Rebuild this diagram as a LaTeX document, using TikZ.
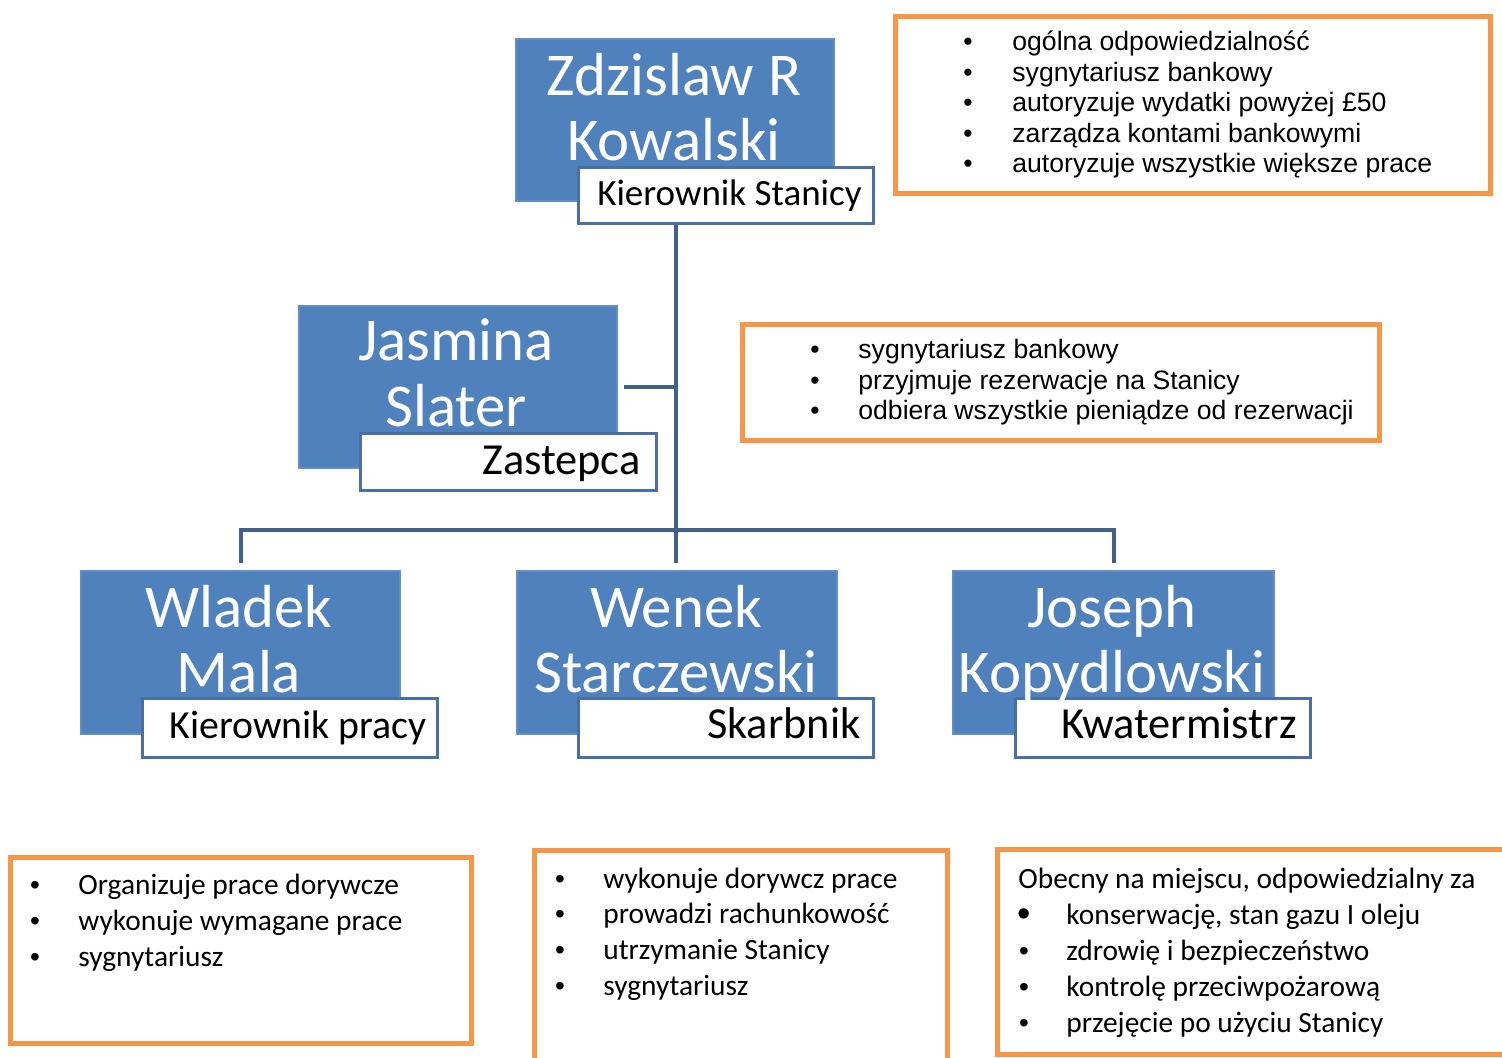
\documentclass[tikz,border=0pt]{standalone}
\usepackage{fontspec}
\setmainfont{Carlito}
\newfontfamily\arialf{Liberation Sans}
\definecolor{boxblue}{HTML}{4F81BD}
\definecolor{lblborder}{HTML}{4A6FA5}
\definecolor{linecol}{HTML}{41608A}
\definecolor{orng}{HTML}{F79646}
\begin{document}
\begin{tikzpicture}[x=0.5pt,y=-0.5pt,
  bluebox/.style={fill=boxblue, draw=boxblue!90!white, line width=1pt, inner sep=0pt, anchor=north west},
  lblbox/.style={fill=white, draw=lblborder, line width=1.5pt, inner sep=0pt, anchor=north west},
  nametxt/.style={text=white, font=\fontsize{30.4}{36}\selectfont, inner sep=0pt, anchor=base},
  lbltxt/.style={text=black, font=\fontsize{22.2}{26}\selectfont, inner sep=0pt, anchor=base east},
  conn/.style={draw=linecol, line width=2pt},
  obox/.style={draw=orng, line width=2.5pt, fill=white, inner sep=0pt, anchor=north west},
  atxt/.style={font=\arialf\fontsize{13.3}{16}\selectfont, inner sep=0pt, anchor=base west},
  ctxt/.style={font=\fontsize{14.7}{18}\selectfont, inner sep=0pt, anchor=base west},
  abul/.style={font=\arialf\fontsize{13.3}{16}\selectfont, inner sep=0pt, anchor=base},
  cbul/.style={font=\arialf\fontsize{14}{16}\selectfont, inner sep=0pt, anchor=base}
]
\useasboundingbox (0,0) rectangle (1502,1057);

% ---- blue boxes ----
\node[bluebox, minimum width=159pt, minimum height=81pt] (zb) at (515,38) {};
\node[lblbox, minimum width=147.5pt, minimum height=28pt] (zl) at (577,166) {};
\node[nametxt] (zn1) at (674,95) {Zdzislaw R};
\node[nametxt] (zn2) at (674,160) {Kowalski};
\node[lbltxt, font=\fontsize{18.5}{22}\selectfont] (zt) at (862,205) {Kierownik Stanicy};

\node[bluebox, minimum width=159pt, minimum height=81pt] (jb) at (298,305) {};
\node[lblbox, minimum width=148pt, minimum height=28.5pt] (jl) at (359,432) {};
\node[nametxt] (jn1) at (456,360) {Jasmina};
\node[nametxt] (jn2) at (456,426) {Slater};
\node[lbltxt] (jt) at (641,474) {Zastepca};

\node[bluebox, minimum width=159.5pt, minimum height=81.5pt] (wb) at (80,570) {};
\node[lblbox, minimum width=147.5pt, minimum height=29.5pt] (wl) at (141,697) {};
\node[nametxt] (wn1) at (239,627) {Wladek};
\node[nametxt] (wn2) at (239,692) {Mala};
\node[lbltxt, font=\fontsize{19.9}{24}\selectfont] (wt) at (427,738) {Kierownik pracy};

\node[bluebox, minimum width=160pt, minimum height=81.5pt] (sb) at (516,570) {};
\node[lblbox, minimum width=147.5pt, minimum height=29.5pt] (sl) at (577,697) {};
\node[nametxt] (sn1) at (676,627) {Wenek};
\node[nametxt] (sn2) at (676,692) {Starczewski};
\node[lbltxt] (st) at (861,738) {Skarbnik};

\node[bluebox, minimum width=160.5pt, minimum height=81.5pt] (kb) at (952,570) {};
\node[lblbox, minimum width=147.5pt, minimum height=29.5pt] (kl) at (1014,697) {};
\node[nametxt] (kn1) at (1112,627) {Joseph};
\node[nametxt] (kn2) at (1112,692) {Kopydlowski};
\node[lbltxt] (kt) at (1297,738) {Kwatermistrz};

% ---- connectors ----
\coordinate (j) at (676,530);
\draw[conn] (j |- zl.south) -- (j);
\draw[conn, shorten >=3.5pt] (j) -- (j |- sb.north);
\draw[conn, shorten >=3.5pt] (j) -| (wb.north);
\draw[conn, shorten >=3.5pt] (j) -| (kb.north);
\draw[conn] ([xshift=6*0.5pt]jb.east) -- (jb.east -| j);

% ---- orange boxes ----
\node[obox, minimum width=297.5pt, minimum height=88.5pt] (o1) at (893,14) {};
\foreach \y/\t [count=\i] in {50/{ogólna odpowiedzialność},81/{sygnytariusz bankowy},111/{autoryzuje wydatki powyżej £50},142/{zarządza kontami bankowymi},172/{autoryzuje wszystkie większe prace}}{
  \node[abul] (o1b\i) at (968,\y) {•};
  \node[atxt] (o1t\i) at (1012,\y) {\t};
}

\node[obox, minimum width=318.5pt, minimum height=58pt] (o2) at (740,322) {};
\foreach \y/\t [count=\i] in {358/{sygnytariusz bankowy},389/{przyjmuje rezerwacje na Stanicy},419/{odbiera wszystkie pieniądze od rezerwacji}}{
  \node[abul] (o2b\i) at (815,\y) {•};
  \node[atxt] (o2t\i) at (858,\y) {\t};
}

\node[obox, minimum width=230.5pt, minimum height=93pt] (o3) at (8,855) {};
\foreach \y/\t [count=\i] in {894/{Organizuje prace dorywcze},930/{wykonuje wymagane prace},966/{sygnytariusz}}{
  \node[cbul] (o3b\i) at (35,\y) {•};
  \node[ctxt] (o3t\i) at (78,\y) {\t};
}

\node[obox, minimum width=206.5pt, minimum height=110pt] (o4) at (532,848) {};
\foreach \y/\t [count=\i] in {888/{wykonuje dorywcz prace},923/{prowadzi rachunkowość},959/{utrzymanie Stanicy},995/{sygnytariusz}}{
  \node[cbul] (o4b\i) at (560,\y) {•};
  \node[ctxt] (o4t\i) at (603,\y) {\t};
}

\node[obox, minimum width=260pt, minimum height=102.5pt] (o5) at (995,847) {};
\node[ctxt] (o5h) at (1018,888) {Obecny na miejscu, odpowiedzialny za};
\node[cbul, font=\arialf\fontsize{19}{20}\selectfont] (o5b1) at (1024,926) {•};
\node[ctxt] (o5t1) at (1066,924) {konserwację, stan gazu I oleju};
\foreach \y/\t [count=\i from 2] in {960/{zdrowię i bezpieczeństwo},996/{kontrolę przeciwpożarową},1032/{przejęcie po użyciu Stanicy}}{
  \node[cbul] (o5b\i) at (1024,\y) {•};
  \node[ctxt] (o5t\i) at (1066,\y) {\t};
}
\end{tikzpicture}
\end{document}
